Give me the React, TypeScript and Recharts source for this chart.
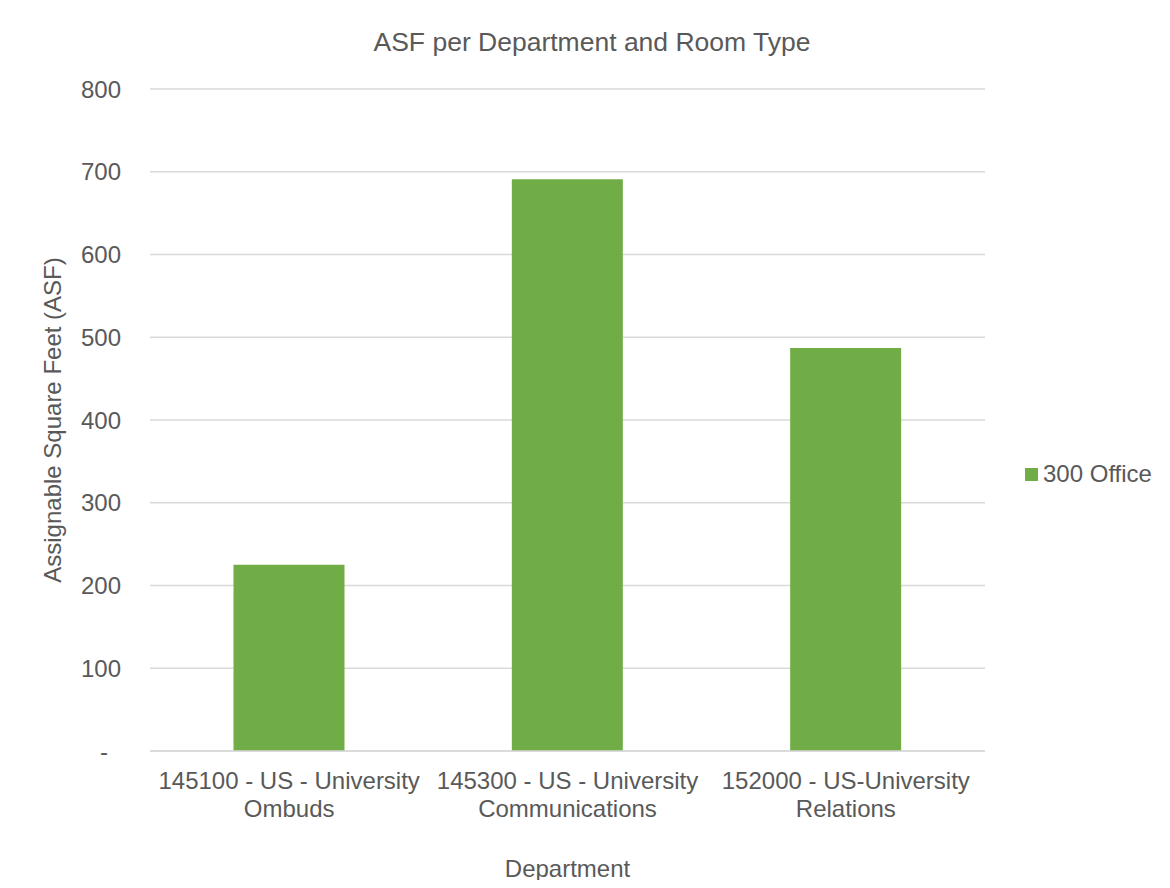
import React from "react";
import { BarChart, Bar, XAxis, YAxis, CartesianGrid, Legend } from "recharts";

const departments = ["145100", "145300", "152000"];
const labelLine1 = ["145100 - US - University", "145300 - US - University", "152000 - US-University"];
const labelLine2 = ["Ombuds", "Communications", "Relations"];
const officeAsf = [225, 691, 487];
const yTicks = [0, 100, 200, 300, 400, 500, 600, 700, 800];

const data = departments.map((d, i) => ({
  dept: d,
  office: officeAsf[i],
}));

const FONT = '"Liberation Sans", Arial, sans-serif';
const GREY = "#595959";
const FS = 24;

function DeptTick(props: any) {
  const { x, y, index } = props;
  return (
    <text x={x} y={y} textAnchor="middle" fill={GREY} fontSize={FS} fontFamily={FONT}>
      <tspan x={x} dy={29.5}>{labelLine1[index]}</tspan>
      <tspan x={x} dy={28}>{labelLine2[index]}</tspan>
    </text>
  );
}

function AsfTick(props: any) {
  const { x, y, payload } = props;
  const zero = payload.value === 0;
  return (
    <text x={zero ? x - 13 : x} y={y} dy={8.5} textAnchor="end" fill={GREY} fontSize={FS} fontFamily={FONT}>
      {zero ? "-" : payload.value}
    </text>
  );
}

function LegendBox() {
  return (
    <div style={{ display: "flex", alignItems: "center", fontFamily: FONT, fontSize: FS, color: GREY }}>
      <span style={{ display: "inline-block", width: 13, height: 13, background: "#70AD47", marginRight: 5 }} />
      <span>300 Office</span>
    </div>
  );
}

export default function App() {
  return (
    <div style={{ margin: -8, width: 1170, height: 888, position: "relative", background: "#fff", fontFamily: FONT, boxShadow: "inset 6px 5px 0 0 #fff, inset 8px 7px 0 0 #d4d4d4" }}>
      <div style={{ position: "absolute", left: 0, top: 27, width: 1184, textAlign: "center", fontSize: 26.5, color: GREY }}>
        ASF per Department and Room Type
      </div>
      <div style={{ position: "absolute", left: 0, top: 0 }}>
        <BarChart width={1170} height={888} data={data} margin={{ top: 89, right: 185, bottom: 57, left: 0 }} barCategoryGap="30%">
          <CartesianGrid vertical={false} stroke="#d9d9d9" strokeWidth={1.5} />
          <XAxis
            dataKey="dept"
            height={80}
            tick={<DeptTick />}
            tickLine={false}
            axisLine={{ stroke: "#d9d9d9", strokeWidth: 1.5 }}
            interval={0}
            label={{ value: "Department", position: "bottom", offset: 28.5, fill: GREY, fontSize: FS, fontFamily: FONT }}
          />
          <YAxis
            width={150}
            domain={[0, 800]}
            ticks={yTicks}
            tickLine={false}
            axisLine={false}
            tickSize={0}
            tickMargin={29}
            tick={<AsfTick />}
            label={{ value: "Assignable Square Feet (ASF)", angle: -90, position: "center", dx: -23, fill: GREY, fontSize: FS, fontFamily: FONT }}
          />
          <Legend
            layout="horizontal"
            align="center"
            verticalAlign="middle"
            content={<LegendBox />}
            wrapperStyle={{ position: "absolute", left: 1025, top: 460, width: 145 }}
          />
          <Bar dataKey="office" name="300 Office" fill="#70AD47" isAnimationActive={false} />
        </BarChart>
      </div>
    </div>
  );
}
